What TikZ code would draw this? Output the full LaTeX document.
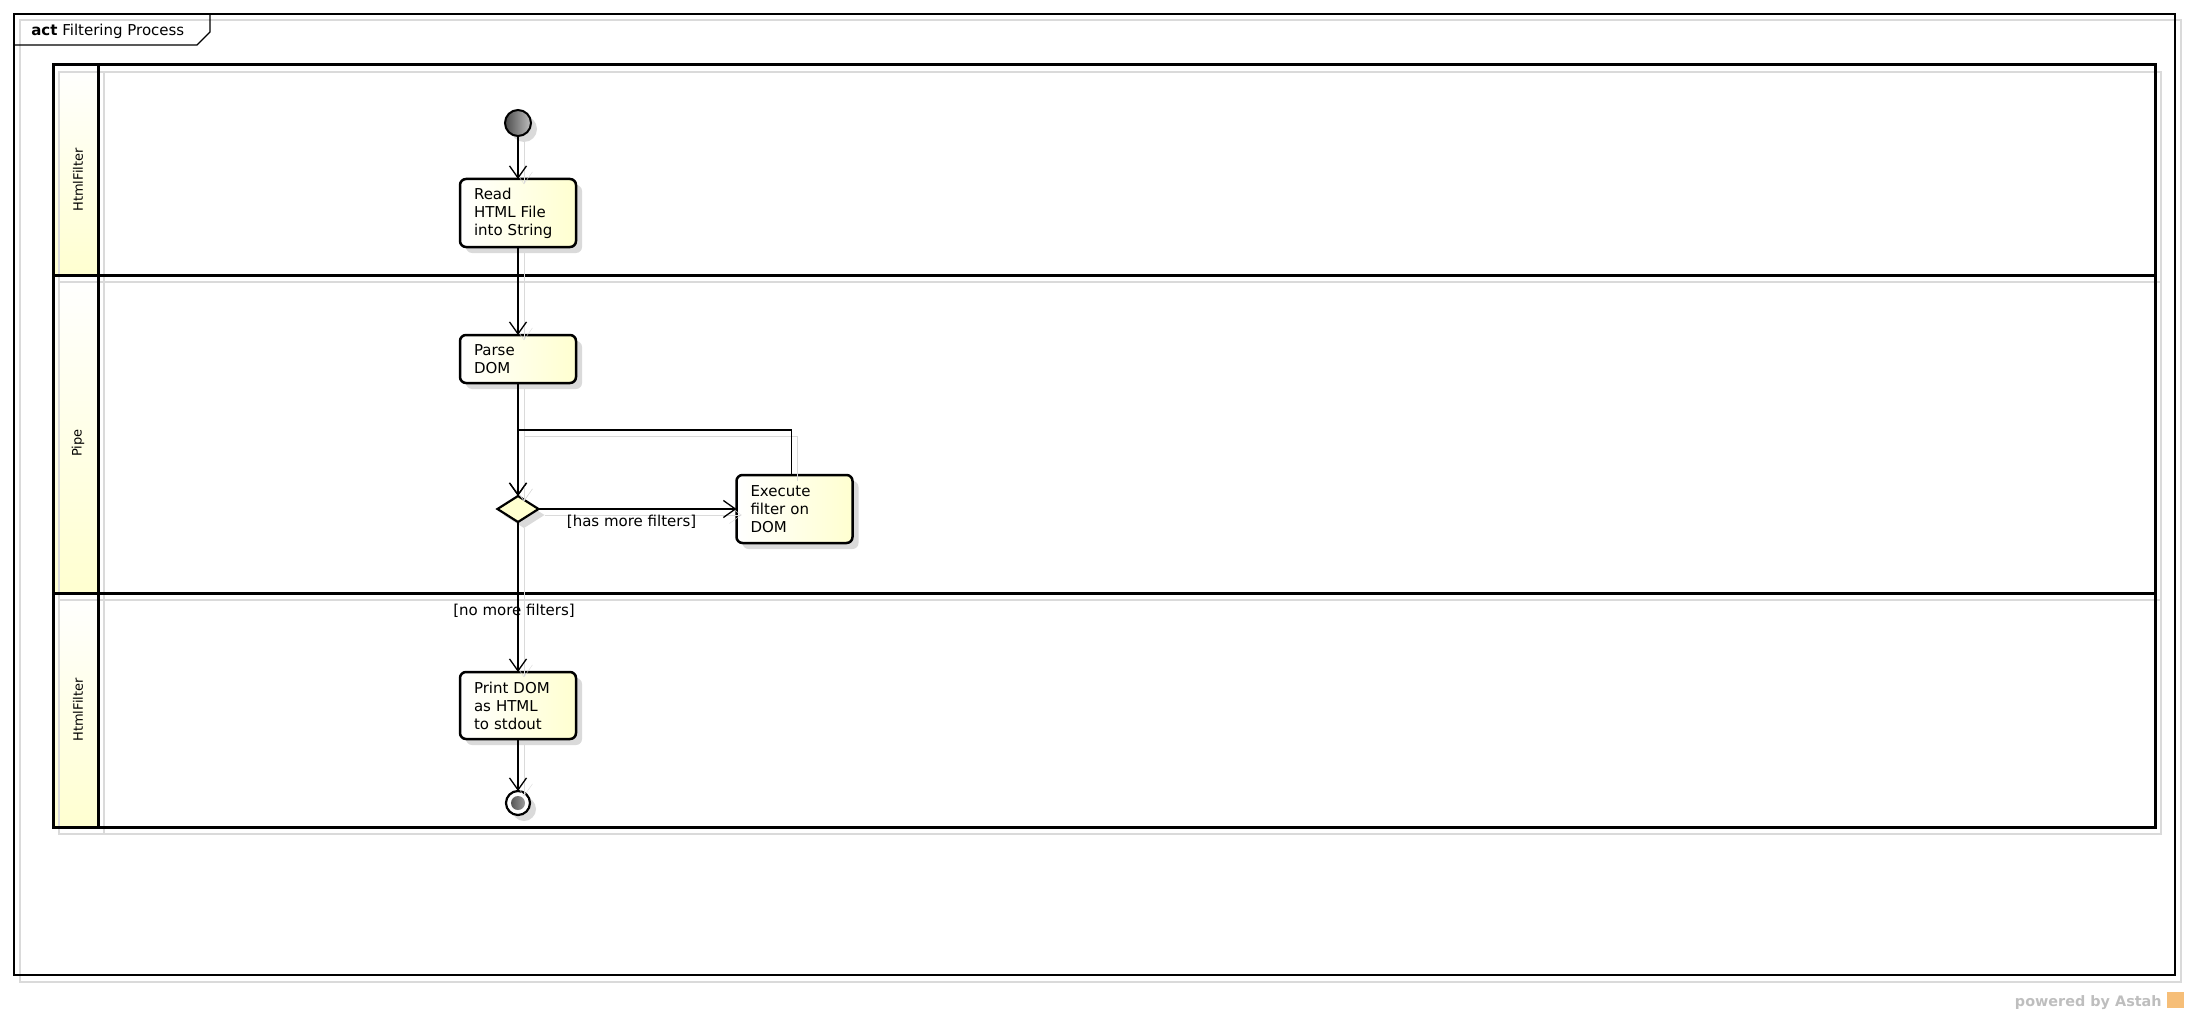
\documentclass[tikz,border=0pt]{standalone}
\usepackage{fontspec}
\setmainfont{DejaVu Sans}
\usetikzlibrary{positioning,arrows.meta,shapes.geometric,shadows}
\definecolor{notefill}{RGB}{255,255,208}
\definecolor{shadowgray}{RGB}{218,218,218}
\definecolor{brandgray}{RGB}{190,190,190}
\definecolor{brandorange}{RGB}{246,190,120}

\begin{document}
\begin{tikzpicture}[
  x=1pt, y=-1pt,
  every node/.style={outer sep=0pt},
  txt/.style={font=\fontsize{15}{18}\selectfont},
  shade box/.style={drop shadow={shadow xshift=6pt, shadow yshift=-6pt, fill=shadowgray, opacity=1}},
  action/.style={draw, line width=2.5pt, rounded corners=6pt, minimum width=116pt, minimum height=48pt,
    text width=88pt, align=left, inner xsep=14pt, inner ysep=5pt, txt,
    left color=white, right color=notefill, shade box},
  initial/.style={circle, draw, line width=2pt, minimum size=26pt, inner sep=0pt,
    left color=black!70, right color=black!25, shade box},
  final/.style={circle, draw, line width=2.2pt, minimum size=24pt, inner sep=0pt, fill=white, shade box,
    path picture={\shade[left color=black!75, right color=black!30] (path picture bounding box.center) circle (7pt);}},
  decision/.style={diamond, draw, line width=2.2pt, minimum width=41pt, minimum height=26pt, inner sep=0pt,
    fill=notefill, shade box},
  guard/.style={font=\fontsize{15}{17}\selectfont, inner sep=1pt},
  lanelab/.style={rotate=90, font=\fontsize{13}{15}\selectfont},
  laneline/.style={line width=3pt},
  laneshade/.style={draw=shadowgray, line width=2.5pt},
  flow/.style={->, line width=1.3pt, preaction={draw=shadowgray, transform canvas={shift={(6,6)}}}},
  >={Straight Barb[length=12pt, width=17pt]}
]
\useasboundingbox (0,0) rectangle (2188,1014);

\draw[draw=shadowgray, line width=1.5pt] (20,20) rectangle (2181,982);
\draw[line width=1.3pt] (14,14) rectangle (2175,975);
\draw[line width=1.3pt] (14,45) -- (197,45) -- (210,32) -- (210,14);
\node[anchor=base west, txt] (title) at (28,36) {\textbf{act} Filtering Process};

\shade[top color=white, bottom color=notefill] (53,65) rectangle (98,275);
\shade[top color=white, bottom color=notefill] (53,275) rectangle (98,593);
\shade[top color=white, bottom color=notefill] (53,593) rectangle (98,827);
\draw[laneshade] (59,72) rectangle (104,282) (104,72) rectangle (2161,282);
\draw[laneshade] (59,282) rectangle (104,600) (104,282) rectangle (2161,600);
\draw[laneshade] (59,600) rectangle (104,834) (104,600) rectangle (2161,834);
\draw[laneline] (53,65) rectangle (2155,827);
\draw[laneline] (98,65) -- (98,827);
\draw[laneline] (53,275) -- (2155,275);
\draw[laneline] (53,593) -- (2155,593);
\node[lanelab] (laneA) at (78,180) {HtmlFilter};
\node[lanelab] (laneB) at (78,443) {Pipe};
\node[lanelab] (laneC) at (78,710) {HtmlFilter};

\node[initial] (start) at (518,123) {};
\node[action, minimum height=68pt, below=43pt of start] (read) {Read\\HTML File\\into String};
\node[action, below=88pt of read] (parse) {Parse\\DOM};
\node[decision, below=113pt of parse] (dec) {};
\node[action, minimum height=68pt, right=198pt of dec] (exec) {Execute\\filter on\\DOM};
\node[action, minimum height=67pt, below=150pt of dec] (print) {Print DOM\\as HTML\\to stdout};
\node[final, below=52pt of print] (stop) {};
\coordinate (join) at (518,430);

\draw[flow] (start) -- (read);
\draw[flow] (read) -- (parse);
\draw[flow] (parse) -- (dec);
\draw[flow] ([xshift=-3pt]exec.north) |- (join) -- (dec.north);
\draw[flow] (dec) -- node[guard, below=5pt, pos=0.47] {[has more filters]} (exec);
\draw[flow] (dec) -- node[guard, pos=0.59, xshift=-4pt] {[no more filters]} (print);
\draw[flow] (print) -- (stop);

\node[anchor=base east, font=\bfseries\fontsize{14.4}{16}\selectfont, text=brandgray] (brand) at (2165,1006) {powered by Astah};
\fill[brandorange] (2167,992) rectangle (2184,1008);
\end{tikzpicture}
\end{document}
